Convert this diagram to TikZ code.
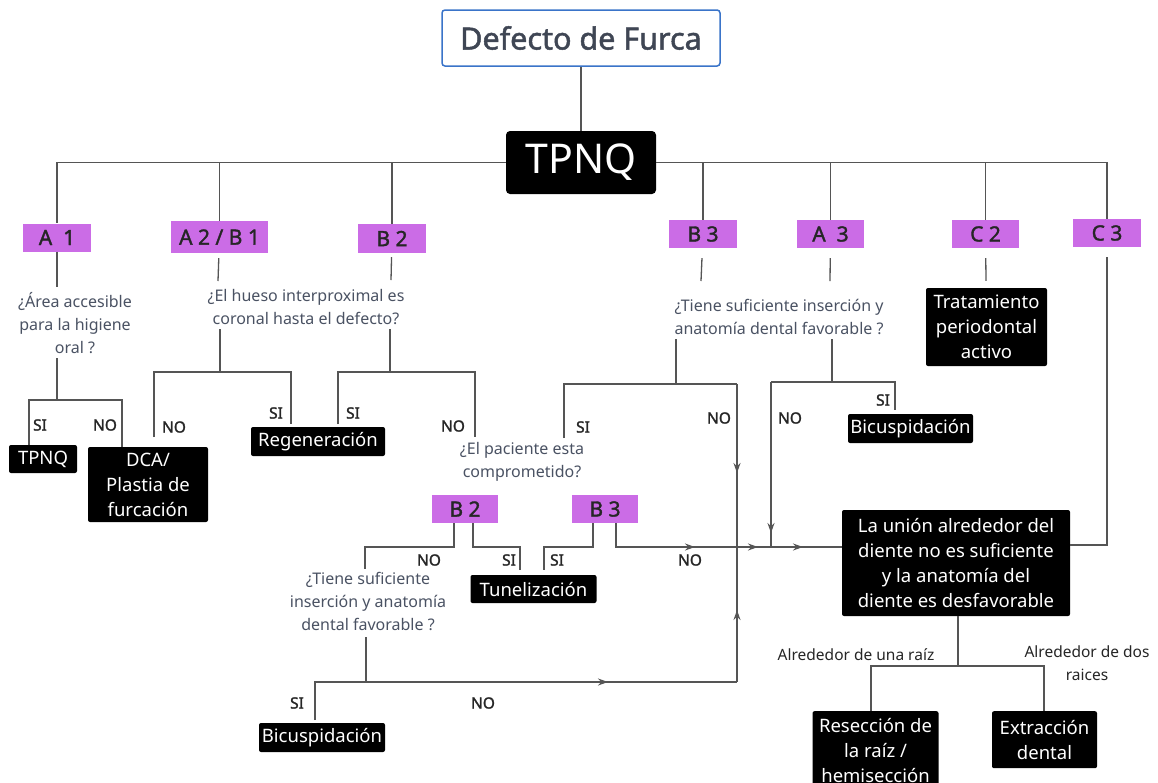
\documentclass[tikz,border=0pt]{standalone}
\usepackage{fontspec}
\setmainfont[AutoFakeBold=1.6]{Noto Sans}
\usetikzlibrary{arrows.meta}
\definecolor{purp}{HTML}{CB6CE6}
\definecolor{qgray}{HTML}{4A5263}
\definecolor{lgray}{HTML}{555555}
\definecolor{tblue}{HTML}{3A74C9}
\definecolor{lblc}{HTML}{262626}
\begin{document}
\begin{tikzpicture}[x=1pt,y=-1pt,
  ln/.style={draw=lgray,line width=1.3pt},
  arr/.style={draw=lgray,line width=1.3pt,-{Stealth[length=10pt,width=7pt]}},
  tbox/.style={draw=tblue,line width=1.5pt,rounded corners=3pt,minimum width=278pt,minimum height=56pt,inner sep=0pt,text=qgray!85!black,font=\fontsize{30.5}{34}\selectfont\bfseries},
  bigbox/.style={fill=black,rounded corners=4pt,minimum width=150pt,minimum height=63pt,inner sep=0pt,text=white,font=\fontsize{41}{50}\selectfont},
  pbox/.style={fill=purp,minimum width=68pt,minimum height=28pt,inner sep=0pt,text=lblc,font=\fontsize{21}{22}\selectfont\bfseries},
  bk/.style={fill=black,rounded corners=2pt,inner sep=0pt,align=center,text=white,font=\fontsize{18.5}{25}\selectfont},
  qt/.style={inner sep=0pt,align=center,text=qgray,font=\fontsize{16}{23}\selectfont},
  lb/.style={inner sep=0pt,text=lblc,font=\fontsize{15.5}{18}\selectfont\bfseries},
  el/.style={inner sep=0pt,align=center,text=lblc,font=\fontsize{15.5}{23}\selectfont}]
\clip (0,0) rectangle (1158,782);
\fill[white] (0,0) rectangle (1158,782);
% ---------------- nodes
\node[tbox] (title) at (581,38) {Defecto de Furca};
\node[bigbox] (tpnq) at (581,162.5) {TPNQ};
\node[pbox] (a1) at (57,237.5) {A\ \ 1};
\node[pbox,minimum width=97pt,minimum height=32pt] (a2b1) at (219.5,237) {A 2 / B 1};
\node[pbox,minimum height=29pt] (b2) at (392,238.5) {B 2};
\node[pbox] (b3t) at (703,234) {B 3};
\node[pbox,minimum width=67pt] (a3) at (830.5,234) {A\ \ 3};
\node[pbox,minimum width=67pt] (c2) at (985.5,234) {C 2};
\node[pbox] (c3) at (1107,233) {C 3};
\node[pbox,minimum width=66pt] (b2l) at (465,509) {B 2};
\node[pbox,minimum width=66pt] (b3l) at (605,509) {B 3};
% questions
\node[qt] (q1) at (75,323) {¿Área accesible\\para la higiene\\oral ?};
\node[qt] (q2) at (306,307.5) {¿El hueso interproximal es\\coronal hasta el defecto?};
\node[qt] (q3) at (779,316.5) {¿Tiene suficiente inserción y\\anatomía dental favorable ?};
\node[qt] (q4) at (522,461.5) {¿El paciente esta\\comprometido?};
\node[qt] (q5) at (368,601) {¿Tiene suficiente\\inserción y anatomía\\dental favorable ?};
% black boxes
\node[bk,minimum width=68pt,minimum height=28pt] (tpnqs) at (43,459) {TPNQ};
\node[bk,minimum width=120pt,minimum height=75pt] (dca) at (148,484.5) {DCA/\\Plastia de\\furcación};
\node[bk,minimum width=134pt,minimum height=29pt] (regen) at (318,441.5) {Regeneración};
\node[bk,minimum width=125pt,minimum height=29pt] (bicu1) at (910.5,428.5) {Bicuspidación};
\node[bk,minimum width=121pt,minimum height=78pt] (trat) at (986.5,327) {Tratamiento\\periodontal\\activo};
\node[bk,minimum width=126pt,minimum height=28pt] (tunel) at (533.5,589) {Tunelización};
\node[bk,minimum width=126pt,minimum height=29pt] (bicu2) at (322,737.5) {Bicuspidación};
\node[bk,minimum width=228pt,minimum height=106pt] (big) at (956,563) {La unión alrededor del\\diente no es suficiente\\y la anatomía del\\diente es desfavorable};
\node[bk,minimum width=126pt,minimum height=78pt,anchor=north] (resec) at (875.5,711) {Resección de\\la raíz /\\hemisección};
\node[bk,minimum width=105pt,minimum height=57pt,anchor=north] (extr) at (1044.5,711) {Extracción\\dental};
% labels
\node[lb] (l1) at (40,425) {SI};
\node[lb] (l2) at (105,425) {NO};
\node[lb] (l3) at (174,427) {NO};
\node[lb] (l4) at (276,413) {SI};
\node[lb] (l5) at (353,413) {SI};
\node[lb] (l6) at (453,426) {NO};
\node[lb] (l7) at (583,427) {SI};
\node[lb] (l8) at (719,418) {NO};
\node[lb] (l9) at (790,418) {NO};
\node[lb] (l10) at (883,400) {SI};
\node[lb] (l11) at (429,560) {NO};
\node[lb] (l12) at (509,560) {SI};
\node[lb] (l13) at (557,560) {SI};
\node[lb] (l14) at (690,560) {NO};
\node[lb] (l15) at (297,703) {SI};
\node[lb] (l16) at (483,703) {NO};
\node[el] (e1) at (856,655) {Alrededor de una raíz};
\node[el] (e2) at (1087,663.5) {Alrededor de dos\\raices};
% ---------------- coordinates
\coordinate (a1q) at (57,287);
\coordinate (q1b) at (57,358);
\coordinate (j1) at (57,400);
\coordinate (j1l) at (29,445);
\coordinate (j1r) at (122,447);
\coordinate (a2q) at (218,281);
\coordinate (b2q) at (391,280);
\coordinate (q2l) at (220,329);
\coordinate (j2) at (220,372);
\coordinate (j2l) at (154,437);
\coordinate (j2r) at (291,424);
\coordinate (q2r) at (390,329);
\coordinate (j3) at (390,372);
\coordinate (j3l) at (338,424);
\coordinate (j3r) at (475,437);
\coordinate (b3q) at (701,281);
\coordinate (a3q) at (830,281);
\coordinate (q3l) at (676,339);
\coordinate (j4) at (676,384);
\coordinate (j4l) at (564,438);
\coordinate (j4r) at (737,384);
\coordinate (q3r) at (832,339);
\coordinate (j5) at (832,382);
\coordinate (j5l) at (771,382);
\coordinate (j5r) at (895,410);
\coordinate (m5) at (771,547);
\coordinate (c3b) at (1108,545);
\coordinate (b2a) at (454,547);
\coordinate (b2al) at (365,547);
\coordinate (q5t) at (365,569);
\coordinate (b2b) at (473,547);
\coordinate (b2br) at (520,547);
\coordinate (tu1) at (520,570);
\coordinate (b3a) at (593,547);
\coordinate (b3al) at (544,547);
\coordinate (tu2) at (544,570);
\coordinate (b3b) at (616,547);
\coordinate (v1b) at (737,682);
\coordinate (q5b) at (366,637);
\coordinate (j6) at (366,682);
\coordinate (j6l) at (315,720);
\coordinate (bg1) at (958,666);
\coordinate (bgl) at (871,711);
\coordinate (bgr) at (1044,711);
\coordinate (ah1) at (695,547);
\coordinate (ah2) at (758,547);
\coordinate (ah3) at (803,547);
\coordinate (ah4) at (737,473);
\coordinate (ah5) at (771,533);
\coordinate (ah6) at (608,682);
\coordinate (ah7) at (737,610);
% ---------------- connectors
\draw[ln] (title) -- (tpnq);
\draw[ln] (tpnq.west) -| (a1.north);
\draw[ln] (tpnq.west) -| (a2b1.north);
\draw[ln] (tpnq.west) -| (b2.north);
\draw[ln] (tpnq.east) -| (b3t.north);
\draw[ln] (tpnq.east) -| (a3.north);
\draw[ln] (tpnq.east) -| (c2.north);
\draw[ln] (tpnq.east) -| (c3.north);
% A1
\draw[ln] (a1) -- (a1q);
\draw[ln] (q1b) -- (j1);
\draw[ln] (j1l) |- (j1) -| (j1r);
% A2/B1 and B2
\draw[ln,shorten <=5pt] (a2b1) -- (a2q);
\draw[ln,shorten <=4pt] (b2) -- (b2q);
\draw[ln] (q2l) -- (j2);
\draw[ln] (j2l) |- (j2) -| (j2r);
\draw[ln] (q2r) -- (j3);
\draw[ln] (j3l) |- (j3) -| (j3r);
% B3 / A3
\draw[ln,shorten <=10pt] (b3t) -- (b3q);
\draw[ln,shorten <=10pt] (a3) -- (a3q);
\draw[ln] (q3l) -- (j4);
\draw[ln] (j4l) |- (j4) -- (j4r);
\draw[ln] (q3r) -- (j5);
\draw[ln] (j5l) -- (j5) -| (j5r);
\draw[ln] (j5l) -- (m5);
% C2 / C3
\draw[ln,shorten <=10pt,shorten >=7pt] (c2) -- (trat);
\draw[ln,shorten <=10pt] (c3.south) |- (big.east |- c3b);
% lower B2 / B3
\draw[ln] (b2l.south -| b2a) -- (b2a) -- (b2al) -- (q5t);
\draw[ln] (b2l.south -| b2b) -- (b2b) -- (b2br) -- (tu1);
\draw[ln] (b3l.south -| b3a) -- (b3a) -- (b3al) -- (tu2);
\draw[ln] (b3l.south -| b3b) -- (b3b) -- (big.west |- b3b);
% vertical collector and bottom branch
\draw[ln] (j4r) -- (v1b);
\draw[ln] (q5b) -- (j6);
\draw[ln] (j6l) |- (j6) -- (v1b);
% arrows
\draw[arr] (b3b) -- (ah1);
\draw[arr] (b3b) -- (ah2);
\draw[arr] (b3b) -- (ah3);
\draw[arr] (j4r) -- (ah4);
\draw[arr] (j5l) -- (ah5);
\draw[arr] (j6) -- (ah6);
\draw[arr] (v1b) -- (ah7);
% big box children
\draw[ln] (big.south -| bg1) -- (bg1);
\draw[ln] (bgl) |- (bg1) -| (bgr);
\end{tikzpicture}
\end{document}
